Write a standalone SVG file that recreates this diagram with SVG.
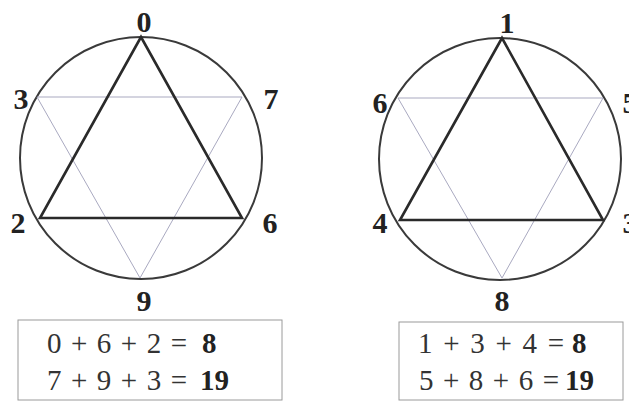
<svg xmlns="http://www.w3.org/2000/svg" width="629" height="401" viewBox="0 0 629 401">
<style>
.circ{fill:none;stroke:#3a3a3a;stroke-width:2}
.heavy{fill:none;stroke:#2a2a2a;stroke-width:2.6;stroke-linejoin:miter}
.light{fill:none;stroke:#a9a9c0;stroke-width:1}
.lbl{font-family:"Liberation Serif",serif;font-weight:bold;font-size:30px;fill:#222;text-anchor:middle}
.eq{font-family:"Liberation Serif",serif;font-size:29px;fill:#333}
.res{font-family:"Liberation Serif",serif;font-weight:bold;font-size:29px;fill:#222}
.box{fill:none;stroke:#9a9a9a;stroke-width:1}
</style>
<rect width="629" height="401" fill="#fff"/>
<g id="left-star">
<circle class="circ" cx="141" cy="158" r="121"/>
<polygon class="light" points="37,97 242,97 140,278"/>
<polygon class="heavy" points="141,37 40,218 242,218"/>
</g>
<g id="right-star">
<circle class="circ" cx="500" cy="159" r="121"/>
<polygon class="light" points="398,98 603,98 502,278"/>
<polygon class="heavy" points="502,38 400,220 603,220"/>
</g>
<g id="left-labels">
<text class="lbl" x="144" y="32">0</text>
<text class="lbl" x="21" y="109">3</text>
<text class="lbl" x="271" y="109">7</text>
<text class="lbl" x="18" y="233">2</text>
<text class="lbl" x="270" y="233">6</text>
<text class="lbl" x="144" y="311">9</text>
</g>
<g id="right-labels">
<text class="lbl" x="507" y="33">1</text>
<text class="lbl" x="380" y="113">6</text>
<text class="lbl" x="630" y="113">5</text>
<text class="lbl" x="380" y="233">4</text>
<text class="lbl" x="630" y="233">3</text>
<text class="lbl" x="502" y="311">8</text>
</g>
<g id="left-box">
<rect class="box" x="18" y="320" width="264" height="80"/>
<text class="eq" x="47" y="353" textLength="140" lengthAdjust="spacing">0 + 6 + 2 =</text>
<text class="res" x="202" y="353">8</text>
<text class="eq" x="47" y="390" textLength="140" lengthAdjust="spacing">7 + 9 + 3 =</text>
<text class="res" x="200" y="390">19</text>
</g>
<g id="right-box">
<rect class="box" x="399" y="322" width="224" height="78"/>
<text class="eq" x="418" y="353" textLength="146" lengthAdjust="spacing">1 + 3 + 4 =</text>
<text class="res" x="572" y="353">8</text>
<text class="eq" x="419" y="390" textLength="140" lengthAdjust="spacing">5 + 8 + 6 =</text>
<text class="res" x="565" y="390">19</text>
</g>
</svg>
